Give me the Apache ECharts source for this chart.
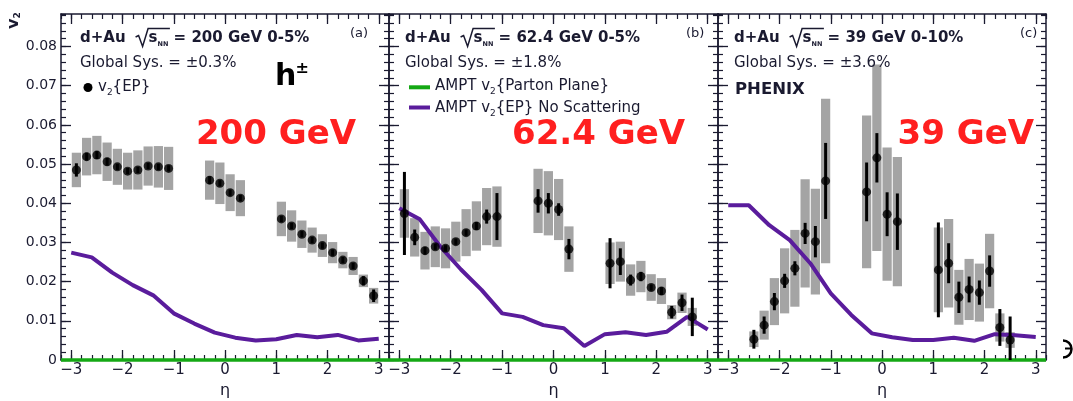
<!DOCTYPE html>
<html>
<head>
<meta charset="utf-8">
<script src="https://cdn.jsdelivr.net/npm/echarts@6/dist/echarts.min.js"></script>
<style>
  html, body { margin: 0; padding: 0; background: #ffffff; }
  #chart { width: 1073px; height: 401px; }
</style>
</head>
<body>
<div id="chart"></div>
<script>
// ---- axis ticks ----
const etaTicks = [-3, -2, -1, 0, 1, 2, 3];
const v2Ticks = [0, 0.01, 0.02, 0.03, 0.04, 0.05, 0.06, 0.07, 0.08];

// ---- panel (a): 200 GeV, 0-5% ----
const etaA = [-2.9, -2.7, -2.5, -2.3, -2.1, -1.9, -1.7, -1.5, -1.3, -1.1, -0.3, -0.1, 0.1, 0.3, 1.1, 1.3, 1.5, 1.7, 1.9, 2.1, 2.3, 2.5, 2.7, 2.9];
const v2A  = [0.0485, 0.0519, 0.0523, 0.0506, 0.0493, 0.0482, 0.0485, 0.0495, 0.0493, 0.0489, 0.0459, 0.0451, 0.0427, 0.0413, 0.0360, 0.0342, 0.0321, 0.0306, 0.0292, 0.0274, 0.0255, 0.0240, 0.0202, 0.0164];
const statA = [0.0017, 0.0010, 0.0010, 0.0010, 0.0008, 0.0008, 0.0008, 0.0008, 0.0008, 0.0008, 0.0010, 0.0008, 0.0008, 0.0008, 0.0008, 0.0008, 0.0008, 0.0008, 0.0008, 0.0008, 0.0008, 0.0008, 0.0012, 0.0016];
const sysA  = [0.0044, 0.0048, 0.0049, 0.0049, 0.0046, 0.0047, 0.0050, 0.0050, 0.0053, 0.0055, 0.0050, 0.0053, 0.0047, 0.0046, 0.0044, 0.0040, 0.0035, 0.0032, 0.0029, 0.0027, 0.0021, 0.0023, 0.0016, 0.0020];

// ---- panel (b): 62.4 GeV, 0-5% ----
const etaB = [-2.9, -2.7, -2.5, -2.3, -2.1, -1.9, -1.7, -1.5, -1.3, -1.1, -0.3, -0.1, 0.1, 0.3, 1.1, 1.3, 1.5, 1.7, 1.9, 2.1, 2.3, 2.5, 2.7];
const v2B  = [0.0374, 0.0313, 0.0279, 0.0289, 0.0285, 0.0302, 0.0325, 0.0342, 0.0366, 0.0366, 0.0406, 0.0400, 0.0384, 0.0283, 0.0247, 0.0251, 0.0204, 0.0213, 0.0185, 0.0176, 0.0122, 0.0146, 0.0110];
const statB = [0.0106, 0.0020, 0.0010, 0.0008, 0.0008, 0.0008, 0.0008, 0.0010, 0.0018, 0.0060, 0.0030, 0.0026, 0.0016, 0.0026, 0.0064, 0.0034, 0.0014, 0.0012, 0.0008, 0.0010, 0.0016, 0.0021, 0.0049];
const sysB  = [0.0062, 0.0049, 0.0048, 0.0052, 0.0051, 0.0051, 0.0060, 0.0063, 0.0073, 0.0077, 0.0082, 0.0082, 0.0078, 0.0058, 0.0053, 0.0051, 0.0040, 0.0040, 0.0034, 0.0033, 0.0018, 0.0026, 0.0023];

// ---- panel (c): 39 GeV, 0-10% ----
const etaC = [-2.5, -2.3, -2.1, -1.9, -1.7, -1.5, -1.3, -1.1, -0.3, -0.1, 0.1, 0.3, 1.1, 1.3, 1.5, 1.7, 1.9, 2.1, 2.3, 2.5];
const v2C  = [0.0053, 0.0089, 0.0149, 0.0202, 0.0234, 0.0323, 0.0302, 0.0457, 0.0429, 0.0516, 0.0372, 0.0353, 0.0230, 0.0247, 0.0160, 0.0180, 0.0172, 0.0227, 0.0083, 0.0051];
const statC = [0.0024, 0.0022, 0.0022, 0.0018, 0.0018, 0.0027, 0.0040, 0.0097, 0.0075, 0.0063, 0.0056, 0.0072, 0.0121, 0.0051, 0.0040, 0.0033, 0.0031, 0.0040, 0.0047, 0.0060];
const sysC  = [0.0020, 0.0037, 0.0060, 0.0083, 0.0098, 0.0138, 0.0135, 0.0210, 0.0195, 0.0238, 0.0170, 0.0165, 0.0108, 0.0113, 0.0070, 0.0078, 0.0074, 0.0095, 0.0036, 0.0020];

// ---- AMPT curves ----
const amptEta = [-3.0, -2.6, -2.2, -1.8, -1.4, -1.0, -0.6, -0.2, 0.2, 0.6, 1.0, 1.4, 1.8, 2.2, 2.6, 3.0];
const amptNoScatA = [0.0274, 0.0262, 0.0223, 0.0191, 0.0165, 0.0119, 0.0093, 0.0070, 0.0057, 0.0050, 0.0053, 0.0064, 0.0058, 0.0064, 0.0050, 0.0054];
const amptNoScatB = [0.0387, 0.0359, 0.0289, 0.0231, 0.0179, 0.0119, 0.0110, 0.0089, 0.0081, 0.0036, 0.0066, 0.0071, 0.0064, 0.0072, 0.0110, 0.0078];
const amptNoScatC = [0.0395, 0.0395, 0.0344, 0.0306, 0.0247, 0.0170, 0.0115, 0.0068, 0.0058, 0.0051, 0.0051, 0.0057, 0.0049, 0.0066, 0.0063, 0.0059];
// parton-plane v2 stays at zero over the whole eta range
const partonEta = [-3.2, 3.2];
const partonPlane = [0, 0];

// ---- panel texts ----
const energies = ['200', '62.4', '39'];
const centralities = ['0-5%', '0-5%', '0-10%'];
const globalSys = ['±0.3%', '±1.8%', '±3.6%'];
const panelTags = ['(a)', '(b)', '(c)'];
const bigLabels = ['200 GeV', '62.4 GeV', '39 GeV'];
const legendTexts = ['v', '2', '{EP}', 'AMPT v', '{Parton Plane}', '{EP} No Scattering'];

// ---- styling ----
const INK = '#1a1a30';
const RED = '#ff1f1f';
const PURPLE = '#5a1c9c';
const GREEN = '#14a814';
const GREY = '#a4a4a4';
const FONT = '"DejaVu Sans", Verdana, sans-serif';

const panels = [
  { eta: etaA, v2: v2A, stat: statA, sys: sysA, ampt: amptNoScatA },
  { eta: etaB, v2: v2B, stat: statB, sys: sysB, ampt: amptNoScatB },
  { eta: etaC, v2: v2C, stat: statC, sys: sysC, ampt: amptNoScatC }
];

// frame geometry of the three pads
const PAD_TOP = 14, PAD_H = 346;
const padLeft = [61, 389, 718];
const padWidth = [328, 329, 328];
const V2_MAX = 0.0883;
const AXES_PER_PAD = 4;

const fmtEta = v => String(v).replace('-', '\u2212');
const fmtV2 = v => (v === 0 ? '0' : v.toFixed(2));

function xAxesFor(g) {
  const base = { type: 'value', gridIndex: g, min: -3.2, max: 3.2, splitLine: { show: false } };
  const line = { show: true, onZero: false, lineStyle: { color: INK, width: 1.5 } };
  const noLine = { show: false, onZero: false };
  const major = { show: true, inside: true, length: 10, customValues: etaTicks, lineStyle: { color: INK, width: 1.3 } };
  const minor = { show: true, inside: true, length: 5, lineStyle: { color: INK, width: 1.2 } };
  return [
    Object.assign({}, base, {
      position: 'bottom', axisLine: line, axisTick: major,
      axisLabel: { show: true, customValues: etaTicks, formatter: fmtEta, margin: 3, color: INK, fontFamily: FONT, fontSize: 15 },
      name: 'η', nameLocation: 'middle', nameGap: 23,
      nameTextStyle: { color: INK, fontFamily: FONT, fontSize: 16 }
    }),
    Object.assign({}, base, { position: 'bottom', interval: 0.2, axisLine: noLine, axisTick: minor, axisLabel: { show: false } }),
    Object.assign({}, base, { position: 'top', axisLine: line, axisTick: major, axisLabel: { show: false } }),
    Object.assign({}, base, { position: 'top', interval: 0.2, axisLine: noLine, axisTick: minor, axisLabel: { show: false } })
  ];
}

function yAxesFor(g) {
  const base = { type: 'value', gridIndex: g, min: 0, max: V2_MAX, splitLine: { show: false } };
  const line = { show: true, onZero: false, lineStyle: { color: INK, width: 1.5 } };
  const noLine = { show: false, onZero: false };
  const major = { show: true, inside: true, length: 10, customValues: v2Ticks, lineStyle: { color: INK, width: 1.3 } };
  const minor = { show: true, inside: true, length: 5, lineStyle: { color: INK, width: 1.2 } };
  return [
    Object.assign({}, base, {
      position: 'left', axisLine: line, axisTick: major,
      axisLabel: { show: g === 0, customValues: v2Ticks, formatter: fmtV2, margin: 4, color: INK, fontFamily: FONT, fontSize: 14 }
    }),
    Object.assign({}, base, { position: 'left', interval: 0.002, axisLine: noLine, axisTick: minor, axisLabel: { show: false } }),
    Object.assign({}, base, { position: 'right', axisLine: line, axisTick: major, axisLabel: { show: false } }),
    Object.assign({}, base, { position: 'right', interval: 0.002, axisLine: noLine, axisTick: minor, axisLabel: { show: false } })
  ];
}

// systematic boxes, half-width in eta
const BOX_HALF = 0.09;
function renderSysBox(params, api) {
  const x = api.value(0), y = api.value(1), e = api.value(2);
  const p1 = api.coord([x - BOX_HALF, y + e]);
  const p2 = api.coord([x + BOX_HALF, y - e]);
  return {
    type: 'rect',
    shape: { x: p1[0], y: p1[1], width: p2[0] - p1[0], height: p2[1] - p1[1] },
    style: { fill: GREY }
  };
}
function renderStatBar(params, api) {
  const x = api.value(0), y = api.value(1), e = api.value(2);
  const top = api.coord([x, y + e]);
  const bot = api.coord([x, y - e]);
  return {
    type: 'line',
    shape: { x1: top[0], y1: top[1], x2: bot[0], y2: bot[1] },
    style: { stroke: '#000', lineWidth: 3 }
  };
}

const grids = [], xAxes = [], yAxes = [], series = [];
panels.forEach((p, g) => {
  grids.push({ left: padLeft[g], top: PAD_TOP, width: padWidth[g], height: PAD_H, outerBoundsMode: 'none' });
  xAxes.push(...xAxesFor(g));
  yAxes.push(...yAxesFor(g));
  const axisRef = { xAxisIndex: g * AXES_PER_PAD, yAxisIndex: g * AXES_PER_PAD };
  series.push(Object.assign({
    type: 'custom', z: 1, clip: true, renderItem: renderSysBox, encode: { x: 0, y: 1 },
    data: p.eta.map((e, i) => [e, p.v2[i], p.sys[i]])
  }, axisRef));
  series.push(Object.assign({
    type: 'line', z: 2, symbol: 'none', smooth: false,
    lineStyle: { color: PURPLE, width: 4 },
    data: amptEta.map((e, i) => [e, p.ampt[i]])
  }, axisRef));
  series.push(Object.assign({
    type: 'line', z: 3, symbol: 'none', clip: false,
    lineStyle: { color: GREEN, width: 3.5 },
    data: partonEta.map((e, i) => [e, partonPlane[i]])
  }, axisRef));
  series.push(Object.assign({
    type: 'custom', z: 4, clip: true, renderItem: renderStatBar, encode: { x: 0, y: 1 },
    data: p.eta.map((e, i) => [e, p.v2[i], p.stat[i]])
  }, axisRef));
  series.push(Object.assign({
    type: 'scatter', z: 5, symbol: 'circle', symbolSize: 9,
    itemStyle: { color: '#000' },
    data: p.eta.map((e, i) => [e, p.v2[i]])
  }, axisRef));
});

// ---- text layout helpers (runs of text pieces on a common baseline) ----
const measureCtx = document.createElement('canvas').getContext('2d');
function fontOf(part) { return (part.w || 'normal') + ' ' + part.s + 'px ' + FONT; }
function widthOf(parts) {
  return parts.reduce((acc, part) => {
    if (part.gap) return acc + part.gap;
    measureCtx.font = fontOf(part);
    return acc + measureCtx.measureText(part.t).width;
  }, 0);
}
function run(x, base, parts, fill) {
  const els = [];
  let cx = x;
  parts.forEach(part => {
    if (part.gap) { part.x0 = cx; cx += part.gap; part.x1 = cx; return; }
    const font = fontOf(part);
    measureCtx.font = font;
    const w = measureCtx.measureText(part.t).width;
    els.push({
      type: 'text', silent: true, z: 100,
      x: cx, y: base + (part.dy || 0) - 0.346 * part.s,
      style: { text: part.t, font: font, fill: part.c || fill || INK, align: 'left', verticalAlign: 'middle', textAlign: 'left', textVerticalAlign: 'middle' }
    });
    part.x0 = cx; part.x1 = cx + w;
    cx += w;
  });
  return els;
}

const textLeft = [80, 405, 734];
const tagLeft = [350, 686, 1020];
const bigRight = [356, 685, 1034];
const graphics = [];

panels.forEach((p, i) => {
  const L = textLeft[i];
  const sPart = { t: 's', w: 'bold', s: 15 };
  const nnPart = { t: 'NN', w: 'bold', s: 6.5, dy: 4 };
  graphics.push(...run(L, 43, [
    { t: 'd+Au', w: 'bold', s: 15 },
    { gap: 23 },
    sPart, nnPart,
    { t: ' = ' + energies[i] + ' GeV ' + centralities[i], w: 'bold', s: 15 }
  ]));
  // square-root sign over s_NN
  const rx = sPart.x0 - 13;
  graphics.push({
    type: 'polyline', silent: true, z: 100,
    shape: { points: [[rx, 37], [rx + 3, 35.5], [rx + 7, 46.5], [rx + 12.5, 28.5], [nnPart.x1 + 1.5, 28.5]] },
    style: { stroke: INK, lineWidth: 1.5, fill: 'none' }
  });
  graphics.push(...run(tagLeft[i], 38, [{ t: panelTags[i], s: 13 }]));
  graphics.push(...run(L, 68.3, [{ t: 'Global Sys. = ' + globalSys[i], s: 15 }]));
  const bigParts = [{ t: bigLabels[i], w: 'bold', s: 34 }];
  graphics.push(...run(bigRight[i] - widthOf(bigParts), 146.7, bigParts, RED));
});

// panel (a): data legend and particle species
graphics.push({ type: 'circle', silent: true, z: 100, shape: { cx: 88, cy: 87.5, r: 4.5 }, style: { fill: '#000' } });
graphics.push(...run(98, 92.7, [
  { t: legendTexts[0], s: 15 }, { t: legendTexts[1], s: 9, dy: 3 }, { t: legendTexts[2], s: 15 }
]));
graphics.push(...run(275, 87.3, [{ t: 'h', w: 'bold', s: 30, c: '#000' }]));
graphics.push(...run(295.5, 74, [{ t: '±', w: 'bold', s: 16, c: '#000' }]));

// panel (b): AMPT legend
graphics.push({ type: 'line', silent: true, z: 100, shape: { x1: 409, y1: 87.3, x2: 430, y2: 87.3 }, style: { stroke: GREEN, lineWidth: 4 } });
graphics.push(...run(435, 91.7, [
  { t: legendTexts[3], s: 15 }, { t: '2', s: 9, dy: 3 }, { t: legendTexts[4], s: 15 }
]));
graphics.push({ type: 'line', silent: true, z: 100, shape: { x1: 409, y1: 107.5, x2: 430, y2: 107.5 }, style: { stroke: PURPLE, lineWidth: 4 } });
graphics.push(...run(435, 113.3, [
  { t: legendTexts[3], s: 15 }, { t: '2', s: 9, dy: 3 }, { t: legendTexts[5], s: 15 }
]));

// panel (c): experiment label
graphics.push(...run(735, 95, [{ t: 'PHENIX', w: 'bold', s: 16.5 }]));

// y-axis title, written upwards
graphics.push({
  type: 'group', x: 19, y: 29, rotation: Math.PI / 2, silent: true, z: 100,
  children: run(0, 0, [{ t: 'v', w: 'bold', s: 16 }, { t: '2', w: 'bold', s: 9, dy: 1.5 }])
});

// clipped glyph at the right edge
graphics.push({
  type: 'arc', silent: true, z: 100,
  shape: { cx: 1063, cy: 349, r: 8.5, startAngle: -Math.PI / 2, endAngle: Math.PI / 2, clockwise: true },
  style: { stroke: '#000', lineWidth: 2.5, fill: 'none' }
});
graphics.push({ type: 'line', silent: true, z: 100, shape: { x1: 1065, y1: 348.5, x2: 1071, y2: 348.5 }, style: { stroke: '#000', lineWidth: 2 } });

const chart = echarts.init(document.getElementById('chart'), null, { renderer: 'canvas' });
chart.setOption({
  backgroundColor: '#ffffff',
  animation: false,
  grid: grids,
  xAxis: xAxes,
  yAxis: yAxes,
  series: series,
  graphic: { elements: graphics }
});
</script>
</body>
</html>
